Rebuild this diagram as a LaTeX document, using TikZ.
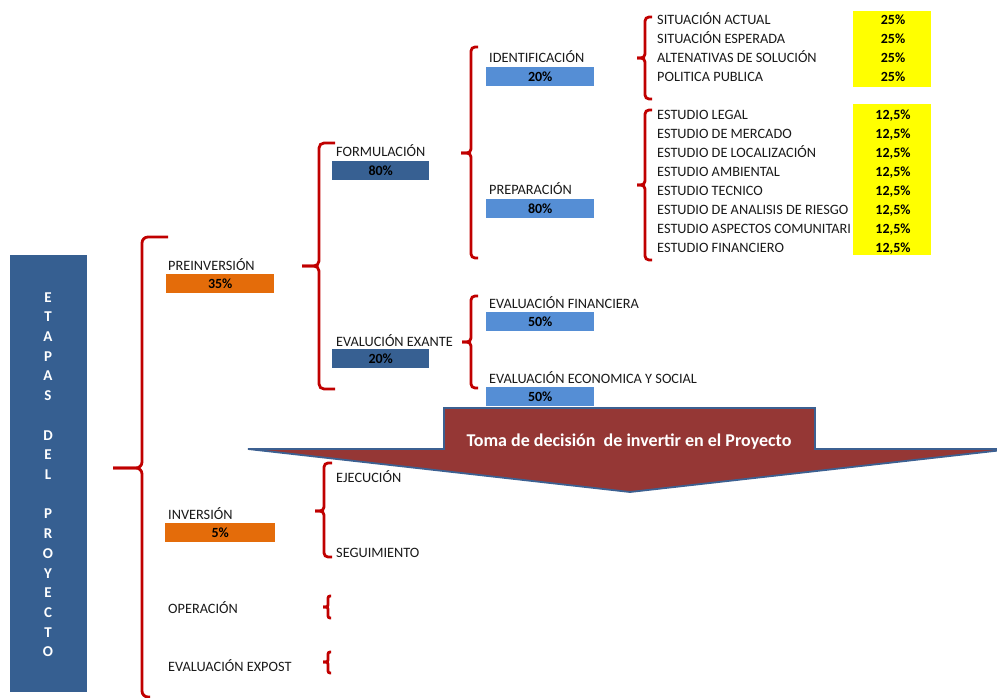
\documentclass[tikz,border=0pt]{standalone}
\usepackage{fontspec}
\setmainfont{Carlito}
\definecolor{braceRed}{RGB}{192,0,0}
\definecolor{darkBlue}{RGB}{55,96,146}
\definecolor{sideBlue}{RGB}{54,95,145}
\definecolor{lightBlue}{RGB}{85,142,213}
\definecolor{orangeC}{RGB}{228,108,10}
\definecolor{yellowC}{RGB}{255,255,0}
\definecolor{arrowRed}{RGB}{149,55,53}
\definecolor{arrowBlue}{RGB}{60,96,145}
\definecolor{txt}{RGB}{25,25,25}
\newcommand{\mybrk}[8][4pt]{%
  % #2 x of vertical, #3 top y, #4 tip y, #5 bottom y, #6 top arm x, #7 bottom arm x, #8 tip x
  \draw[brk=#1] (#6,#3) -- (#2,#3) -- (#2,#4) -- (#8,#4);
  \draw[brk=#1] (#8,#4) -- (#2,#4) -- (#2,#5) -- (#7,#5);}
\begin{document}
\begin{tikzpicture}[x=1pt,y=-1pt,
  lbl/.style={anchor=base west, inner sep=0pt, font=\fontsize{14.3}{16}\selectfont, text=txt},
  bar/.style={anchor=north west, inner sep=0pt, minimum height=19pt, font=\bfseries\fontsize{14}{15}\selectfont, text=black},
  rpct/.style={anchor=base, inner sep=0pt, font=\bfseries\fontsize{14}{15}\selectfont, text=black},
  vlet/.style={anchor=base, inner sep=0pt, font=\bfseries\fontsize{15}{17}\selectfont, text=white},
  brk/.style={draw=braceRed, line width=2.8pt, rounded corners=#1},
  brk/.default=4pt]
\useasboundingbox (0,0) rectangle (997,698);
\clip (0,0) rectangle (997,698);

% left vertical title box
\node[fill=sideBlue, anchor=north west, minimum width=77pt, minimum height=437pt, inner sep=0pt] (side) at (10,255) {};
\foreach \ch [count=\i from 0] in {E,T,A,P,A,S,{},D,E,L,{},P,R,O,Y,E,C,T,O}
  \node[vlet] (l\i) at (48,{302+19.72*\i}) {\ch};

% braces
\mybrk[6pt]{142}{237}{468}{697}{168}{150}{113}
\mybrk[5pt]{319}{143}{266}{389}{335}{335}{302}
\mybrk[4pt]{471}{47}{153}{258}{478}{478}{461}
\mybrk[4pt]{471}{296}{342}{388}{478}{478}{462}
\mybrk[4pt]{645}{17}{58}{99}{652}{652}{637}
\mybrk[4pt]{645}{110}{185}{260}{652}{652}{637}
\mybrk[4pt]{324}{463}{511}{557}{332}{332}{315}
\mybrk[2pt]{328}{596}{607}{618}{331}{331}{323}
\mybrk[2pt]{328}{652}{662}{673}{331}{331}{323}

% level 1
\node[lbl] (preinv) at (168,270) {PREINVERSIÓN};
\node[bar, fill=orangeC, minimum width=108pt] (preinvB) at (166,274) {35\%};
\node[lbl] (inv) at (168,519) {INVERSIÓN};
\node[bar, fill=orangeC, minimum width=110pt] (invB) at (165,523) {5\%};
\node[lbl] (oper) at (168,613) {OPERACIÓN};
\node[lbl] (expost) at (168,671) {EVALUACIÓN EXPOST};

% level 2
\node[lbl] (form) at (336,157) {FORMULACIÓN};
\node[bar, fill=darkBlue, minimum width=97pt] (formB) at (332,161) {80\%};
\node[lbl] (exante) at (336,346) {EVALUCIÓN EXANTE};
\node[bar, fill=darkBlue, minimum width=97pt] (exanteB) at (332,349) {20\%};
\node[lbl] (ejec) at (336,482) {EJECUCIÓN};
\node[lbl] (segu) at (336,557) {SEGUIMIENTO};

% level 3
\node[lbl] (ident) at (489,63) {IDENTIFICACIÓN};
\node[bar, fill=lightBlue, minimum width=108pt] (identB) at (486,67) {20\%};
\node[lbl] (prep) at (489,195) {PREPARACIÓN};
\node[bar, fill=lightBlue, minimum width=108pt] (prepB) at (486,199) {80\%};
\node[lbl] (evfin) at (489,308) {EVALUACIÓN FINANCIERA};
\node[bar, fill=lightBlue, minimum width=108pt] (evfinB) at (486,312) {50\%};
\node[lbl] (eveco) at (489,383) {EVALUACIÓN ECONOMICA Y SOCIAL};
\node[bar, fill=lightBlue, minimum width=108pt] (evecoB) at (486,387) {50\%};

% level 4 lists
\node[lbl] (s1) at (657,25) {SITUACIÓN ACTUAL};
\node[lbl] (s2) at (657,44) {SITUACIÓN ESPERADA};
\node[lbl] (s3) at (657,63) {ALTENATIVAS DE SOLUCIÓN};
\node[lbl] (s4) at (657,82) {POLITICA PUBLICA};
\node[lbl] (e1) at (657,120) {ESTUDIO LEGAL};
\node[lbl] (e2) at (657,138.9) {ESTUDIO DE MERCADO};
\node[lbl] (e3) at (657,157.8) {ESTUDIO DE LOCALIZACIÓN};
\node[lbl] (e4) at (657,176.7) {ESTUDIO AMBIENTAL};
\node[lbl] (e5) at (657,195.6) {ESTUDIO TECNICO};
\node[lbl] (e6) at (657,214.5) {ESTUDIO DE ANALISIS DE RIESGO};
\node[lbl] (e7) at (657,233.4) {ESTUDIO ASPECTOS COMUNITARI};
\node[lbl] (e8) at (657,252.3) {ESTUDIO FINANCIERO};

\node[fill=yellowC, anchor=north west, minimum width=78pt, minimum height=76pt, inner sep=0pt] (y1) at (853,11) {};
\node[fill=yellowC, anchor=north west, minimum width=78pt, minimum height=151pt, inner sep=0pt] (y2) at (853,104) {};
\foreach \yy [count=\i] in {25,44,63,82}
  \node[rpct] (ps\i) at (893,\yy) {25\%};
\foreach \i in {1,...,8}
  \node[rpct] (pe\i) at (893,{120+18.9*(\i-1)}) {12,5\%};

% decision arrow
\draw[fill=arrowRed, draw=arrowBlue, line width=1.8pt, line join=miter]
  (444,408) -- (815,408) -- (815,449) -- (1012,449) -- (630,492) -- (248,449) -- (444,449) -- cycle;
\node[anchor=base, inner sep=0pt, font=\bfseries\fontsize{18}{20}\selectfont, text=white] (title) at (629,446) {Toma de decisión\ \ de invertir en el Proyecto};
\end{tikzpicture}
\end{document}
